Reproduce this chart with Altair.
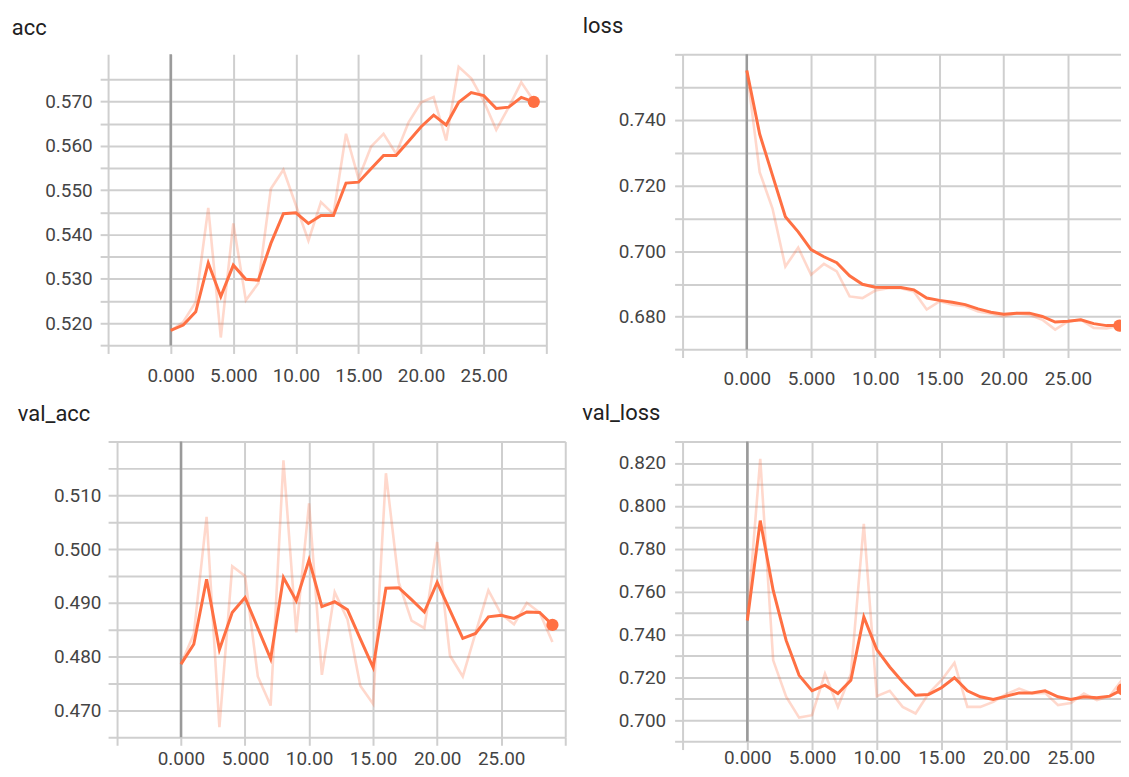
import altair as alt
import pandas as pd

STEPS = list(range(30))

ACC_RAW = [0.5183, 0.5203, 0.5248, 0.5460, 0.5168, 0.5425, 0.5252, 0.5290, 0.5503, 0.5546,
           0.5466, 0.5386, 0.5473, 0.5446, 0.5627, 0.5526, 0.5598, 0.5627, 0.5582, 0.5653,
           0.5698, 0.5710, 0.5612, 0.5778, 0.5752, 0.5701, 0.5636, 0.5687, 0.5743, 0.5701]
ACC_SMOOTH = [0.5184, 0.5196, 0.5226, 0.5336, 0.5260, 0.5331, 0.5299, 0.5297, 0.5380, 0.5447,
              0.5449, 0.5425, 0.5443, 0.5443, 0.5516, 0.5518, 0.5548, 0.5578, 0.5578, 0.5610,
              0.5643, 0.5669, 0.5647, 0.5698, 0.5720, 0.5713, 0.5684, 0.5687, 0.5709, 0.5699]

LOSS_RAW = [0.7551, 0.7241, 0.7130, 0.6953, 0.7011, 0.6928, 0.6961, 0.6938, 0.6862, 0.6857,
            0.6880, 0.6887, 0.6887, 0.6877, 0.6822, 0.6847, 0.6837, 0.6832, 0.6816, 0.6809,
            0.6801, 0.6811, 0.6806, 0.6791, 0.6761, 0.6786, 0.6791, 0.6766, 0.6764, 0.6773]
LOSS_SMOOTH = [0.7551, 0.7357, 0.7231, 0.7105, 0.7059, 0.7005, 0.6983, 0.6965, 0.6925, 0.6899,
               0.6890, 0.6889, 0.6889, 0.6882, 0.6857, 0.6850, 0.6844, 0.6837, 0.6824, 0.6814,
               0.6808, 0.6811, 0.6811, 0.6801, 0.6784, 0.6786, 0.6791, 0.6779, 0.6773, 0.6773]

VAL_ACC_RAW = [0.4786, 0.4842, 0.5060, 0.4669, 0.4968, 0.4950, 0.4763, 0.4709, 0.5165, 0.4845,
               0.5085, 0.4766, 0.4920, 0.4869, 0.4746, 0.4712, 0.5141, 0.4938, 0.4867, 0.4853,
               0.5013, 0.4802, 0.4763, 0.4844, 0.4923, 0.4879, 0.4860, 0.4900, 0.4882, 0.4827]
VAL_ACC_SMOOTH = [0.4786, 0.4823, 0.4944, 0.4813, 0.4882, 0.4910, 0.4853, 0.4796, 0.4947, 0.4904,
                  0.4980, 0.4893, 0.4902, 0.4887, 0.4833, 0.4780, 0.4927, 0.4928, 0.4906, 0.4883,
                  0.4938, 0.4886, 0.4834, 0.4843, 0.4874, 0.4877, 0.4871, 0.4883, 0.4882, 0.4859]

VAL_LOSS_RAW = [0.7465, 0.8219, 0.7279, 0.7109, 0.7012, 0.7023, 0.7217, 0.7062, 0.7215, 0.7916,
                0.7112, 0.7137, 0.7062, 0.7031, 0.7124, 0.7186, 0.7267, 0.7062, 0.7062, 0.7085,
                0.7121, 0.7147, 0.7124, 0.7127, 0.7070, 0.7080, 0.7124, 0.7093, 0.7112, 0.7193]
VAL_LOSS_SMOOTH = [0.7465, 0.7931, 0.7605, 0.7372, 0.7209, 0.7137, 0.7163, 0.7124, 0.7186, 0.7481,
                   0.7329, 0.7248, 0.7178, 0.7116, 0.7120, 0.7151, 0.7198, 0.7137, 0.7109, 0.7096,
                   0.7112, 0.7127, 0.7127, 0.7137, 0.7109, 0.7096, 0.7109, 0.7104, 0.7112, 0.7144]

X_GRID = [-5, 0, 5, 10, 15, 20, 25, 30]
X_LABELS = [0, 5, 10, 15, 20, 25]

ACC_Y_GRID = [0.515, 0.520, 0.525, 0.530, 0.535, 0.540, 0.545, 0.550, 0.555, 0.560, 0.565, 0.570, 0.575]
ACC_Y_LABELS = [0.520, 0.530, 0.540, 0.550, 0.560, 0.570]
LOSS_Y_GRID = [0.670, 0.680, 0.690, 0.700, 0.710, 0.720, 0.730, 0.740, 0.750, 0.760]
LOSS_Y_LABELS = [0.680, 0.700, 0.720, 0.740]
VAL_ACC_Y_GRID = [0.465, 0.470, 0.475, 0.480, 0.485, 0.490, 0.495, 0.500, 0.505, 0.510, 0.515, 0.520]
VAL_ACC_Y_LABELS = [0.470, 0.480, 0.490, 0.500, 0.510]
VAL_LOSS_Y_GRID = [0.690, 0.700, 0.710, 0.720, 0.730, 0.740, 0.750, 0.760, 0.770, 0.780,
                   0.790, 0.800, 0.810, 0.820, 0.830]
VAL_LOSS_Y_LABELS = [0.700, 0.720, 0.740, 0.760, 0.780, 0.800, 0.820]

ORANGE = "#ff7043"
GRID = "#cfcfcf"
ZERO = "#9a9a9a"
LABEL = "#444444"
TITLE = "#212121"
FONT = "Roboto"


def y_label_expr(labels):
    keys = ",".join(str(int(round(v * 1000))) for v in labels)
    return ("indexof([%s], round(datum.value*1000)) >= 0 ? format(datum.value, '.3f') : ''"
            % keys)


def x_label_expr(labels):
    keys = ",".join(str(int(round(v))) for v in labels)
    return ("indexof([%s], round(datum.value)) >= 0 ? "
            "(datum.value < 10 ? format(datum.value, '.3f') : format(datum.value, '.2f')) : ''"
            % keys)


def panel(title, raw, smooth, xdom, ydom, ygrid, ylabels, width, height,
          ytick, ylabpad, xlabpad, tx, ty, clip_dot):
    xvals = [v for v in X_GRID if xdom[0] <= v <= xdom[1]]
    raw_df = pd.DataFrame({"step": STEPS, "value": raw})
    sm_df = pd.DataFrame({"step": STEPS, "value": smooth})
    xscale = alt.Scale(domain=xdom, nice=False, zero=False)
    yscale = alt.Scale(domain=ydom, nice=False, zero=False)
    xaxis = alt.Axis(values=xvals, labelExpr=x_label_expr(X_LABELS), title=None,
                     domain=False, grid=True, gridColor=GRID, gridWidth=2,
                     ticks=True, tickSize=8, tickColor=GRID, tickWidth=2,
                     labelPadding=xlabpad, labelFontSize=19, labelColor=LABEL, labelFont=FONT,
                     labelOverlap=False, labelFlush=False)
    yaxis = alt.Axis(values=ygrid, labelExpr=y_label_expr(ylabels), title=None,
                     domain=False, grid=True, gridColor=GRID, gridWidth=2,
                     ticks=True, tickSize=ytick, tickColor=GRID, tickWidth=2,
                     labelPadding=ylabpad, labelFontSize=19, labelColor=LABEL, labelFont=FONT,
                     labelOverlap=False, labelFlush=False)
    x = alt.X("step:Q", scale=xscale, axis=xaxis)
    y = alt.Y("value:Q", scale=yscale, axis=yaxis)

    zero = alt.Chart(pd.DataFrame({"z": [0]})).mark_rule(
        color=ZERO, strokeWidth=2.5).encode(x=alt.X("z:Q", scale=xscale, axis=xaxis))
    raw_line = alt.Chart(raw_df).mark_line(
        color=ORANGE, opacity=0.27, strokeWidth=2.6).encode(x=x, y=y)
    sm_line = alt.Chart(sm_df).mark_line(
        color=ORANGE, strokeWidth=3).encode(x=x, y=y)
    dot = alt.Chart(sm_df).mark_circle(
        color=ORANGE, size=150, opacity=1, clip=clip_dot).encode(x=x, y=y).transform_filter(
        "datum.step == 29")
    ttl = alt.Chart(pd.DataFrame({"t": [title]})).mark_text(
        align="left", baseline="alphabetic", fontSize=22, font=FONT, color=TITLE).encode(
        x=alt.value(tx), y=alt.value(ty), text="t:N")
    return alt.layer(zero, raw_line, sm_line, dot, ttl).properties(width=width, height=height)


acc = panel("acc", ACC_RAW, ACC_SMOOTH, [-5, 30], [0.515, 0.5806], ACC_Y_GRID, ACC_Y_LABELS,
            440, 292.3, 8, 8, 13, -96.7, -19, False)
loss = panel("loss", LOSS_RAW, LOSS_SMOOTH, [-5, 29.38], [0.670, 0.760], LOSS_Y_GRID, LOSS_Y_LABELS,
             443.5, 296.4, 8, 9, 12, -100.2, -21.7, True)
val_acc = panel("val_acc", VAL_ACC_RAW, VAL_ACC_SMOOTH, [-5.69, 30], [0.465, 0.520],
                VAL_ACC_Y_GRID, VAL_ACC_Y_LABELS, 459, 297, 0, 7.2, 4, -90.6, -20.4, False)
val_loss = panel("val_loss", VAL_LOSS_RAW, VAL_LOSS_SMOOTH, [-5, 29.12], [0.690, 0.830],
                 VAL_LOSS_Y_GRID, VAL_LOSS_Y_LABELS, 443.5, 301.3, 8, 9, -0.5, -100.7, -21.1, True)

chart = alt.concat(
    acc, loss, val_acc, val_loss, columns=2,
    spacing={"row": 91.7, "column": 117.8}, bounds="flush"
).properties(
    padding={"left": 3.5, "top": 5, "right": -8, "bottom": 0}
).configure_view(stroke=None)

chart.save("out.html", embed_options={"renderer": "svg", "actions": False})
